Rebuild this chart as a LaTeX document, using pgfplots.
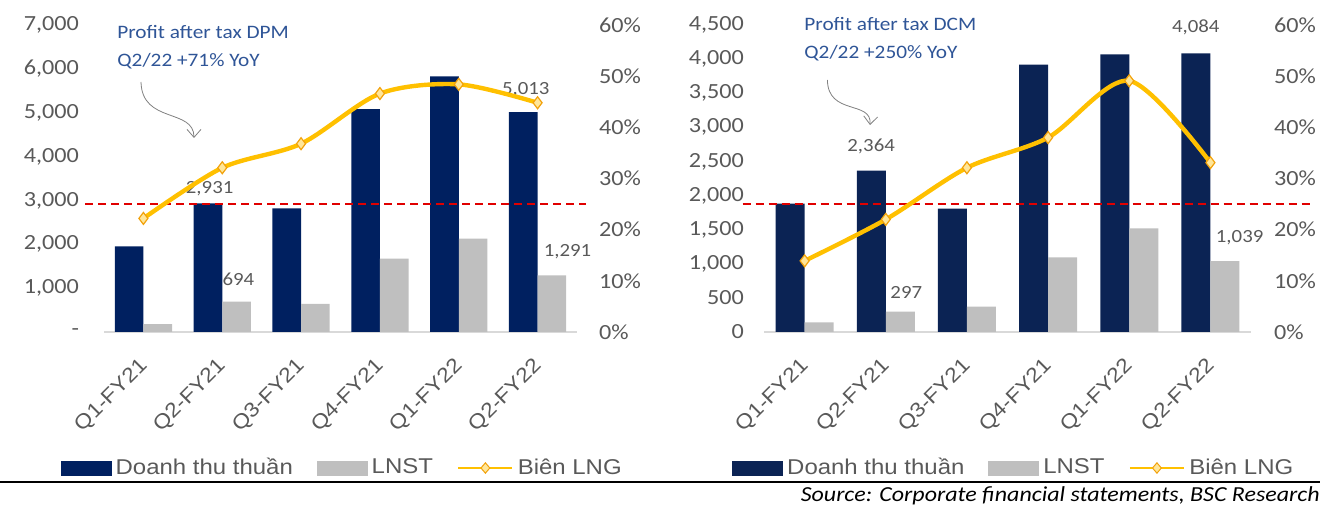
\documentclass[border=0pt]{standalone}
\usepackage{pgfplots}
\pgfplotsset{compat=1.18}
\usepackage{fontspec}
\setmainfont{Carlito}[FakeStretch=1.12]
\newfontfamily\arialf{Liberation Sans}[FakeStretch=1.12]
\usetikzlibrary{arrows.meta}
\definecolor{navyA}{HTML}{002060}
\definecolor{navyB}{HTML}{0B2354}
\definecolor{grayBar}{HTML}{BFBFBF}
\definecolor{goldL}{HTML}{FFC000}
\definecolor{mkFill}{HTML}{FFE699}
\definecolor{mkDraw}{HTML}{F2A20C}
\definecolor{tickGray}{HTML}{595959}
\definecolor{annBlue}{HTML}{2F5597}
\definecolor{refRed}{HTML}{E00000}
\definecolor{baseGray}{HTML}{D9D9D9}

\tikzset{dlab/.style={font=\fontsize{9.3}{11}\selectfont, text=tickGray, inner sep=0pt, anchor=center}}

\pgfplotsset{
 common/.style={
  scale only axis, height=153.5pt,
  xmin=-0.5, xmax=5.5,
  /pgf/number format/assume math mode=true,
  tick label style={font=\fontsize{10.8}{13}\selectfont, text=tickGray},
  major tick length=0pt,
  clip=false,
 },
 mainax/.style={
  common,
  axis x line*=bottom, axis y line*=left,
  x axis line style={draw=baseGray, line width=1pt},
  y axis line style={draw=none},
  xtick={0,...,5},
  xticklabels={Q1-FY21,Q2-FY21,Q3-FY21,Q4-FY21,Q1-FY22,Q2-FY22},
  xticklabel style={font=\arialf\fontsize{10.2}{12}\selectfont, xshift=3pt, rotate=45, anchor=east},
  xticklabel shift=13pt,
  ybar=0pt,
  ymin=0,
  yticklabel shift=9pt,
 },
 secax/.style={
  common,
  axis y line*=right, axis x line=none,
  y axis line style={draw=none},
  ymin=0, ymax=60, ytick={0,10,...,60},
  yticklabels={0\%,10\%,20\%,30\%,40\%,50\%,60\%},
  yticklabel shift=7.5pt,
  legend columns=3,
  legend style={draw=none, fill=none, inner sep=0pt, anchor=west,
    font=\arialf\fontsize{10.7}{13}\selectfont, text=tickGray,
    /tikz/every even column/.append style={column sep=10pt}},
  legend cell align=left,
 },
 margline/.style={goldL, line width=2.2pt, smooth, mark=diamond*, mark size=3pt,
   mark options={fill=mkFill, draw=mkDraw, line width=0.6pt},
   legend image code/.code={\draw[goldL, line width=1.4pt] (0pt,0pt) -- (27pt,0pt);
     \draw[mkDraw, fill=mkFill, line width=0.5pt] (13.5pt,2.6pt) -- (11.3pt,0pt) -- (13.5pt,-2.6pt) -- (15.7pt,0pt) -- cycle;}},
 reflinestyle/.style={refRed, line width=1pt, dash pattern=on 4pt off 2.5pt, forget plot},
}

\pgfplotstableread{
x rev lnst marg
0 1950 180 22.2
1 2931 694 32.1
2 2820 640 36.8
3 5080 1675 46.6
4 5830 2130 48.4
5 5013 1291 44.8
}\dpm

\pgfplotstableread{
x rev lnst marg
0 1880 142 13.9
1 2364 297 22.0
2 1810 371 32.1
3 3920 1095 38.0
4 4070 1520 49.1
5 4084 1039 33.1
}\dcm

\begin{document}
\begin{tikzpicture}
\useasboundingbox (0,0) rectangle (660pt,254pt);

% ---------- Left chart (DPM) ----------
\begin{axis}[mainax, at={(52pt,88pt)}, anchor=south west, width=236.5pt,
  ymax=7000, ytick={0,1000,...,7000},
  yticklabels={{-},{1,000},{2,000},{3,000},{4,000},{5,000},{6,000},{7,000}},
  bar width=14.3pt]
\addplot[fill=navyA, draw=none] table[x=x, y=rev] {\dpm};
\addplot[fill=grayBar, draw=none] table[x=x, y=lnst] {\dpm};
\node[dlab] at (axis cs:0.84,3267) {2,931};
\node[dlab] at (axis cs:1.205,1213) {694};
\node[dlab] at (axis cs:4.85,5536) {5,013};
\node[dlab] at (axis cs:5.38,1829) {1,291};
\end{axis}
\begin{axis}[secax, at={(52pt,88pt)}, anchor=south west, width=236.5pt,
  legend style={at={(-0.092,-0.443)}}]
\addplot[reflinestyle] coordinates {(-0.736,25) (5.62,25)};
\addlegendimage{legend image code/.code={\fill[navyA] (0pt,-3.5pt) rectangle (25pt,3.5pt);}}
\addlegendentry{Doanh thu thuần}
\addlegendimage{legend image code/.code={\fill[grayBar] (0pt,-3.5pt) rectangle (25pt,3.5pt);}}
\addlegendentry{LNST}
\addplot[margline] table[x=x, y=marg] {\dpm};
\addlegendentry{Biên LNG}
\end{axis}

% ---------- Right chart (DCM) ----------
\begin{axis}[mainax, at={(382pt,88pt)}, anchor=south west, width=243.5pt,
  ymax=4500, ytick={0,500,...,4500},
  yticklabels={{0},{500},{1,000},{1,500},{2,000},{2,500},{3,000},{3,500},{4,000},{4,500}},
  yticklabel shift=6.5pt,
  bar width=14.5pt]
\addplot[fill=navyB, draw=none] table[x=x, y=rev] {\dcm};
\addplot[fill=grayBar, draw=none] table[x=x, y=lnst] {\dcm};
\node[dlab] at (axis cs:0.82,2717) {2,364};
\node[dlab] at (axis cs:1.253,574) {297};
\node[dlab] at (axis cs:4.82,4467) {4,084};
\node[dlab] at (axis cs:5.36,1385) {1,039};
\end{axis}
\begin{axis}[secax, at={(382pt,88pt)}, anchor=south west, width=243.5pt,
  yticklabel shift=8pt,
  legend style={at={(-0.0657,-0.443)}}]
\addplot[reflinestyle] coordinates {(-0.765,25) (6.25,25)};
\addlegendimage{legend image code/.code={\fill[navyB] (0pt,-3.5pt) rectangle (25pt,3.5pt);}}
\addlegendentry{Doanh thu thuần}
\addlegendimage{legend image code/.code={\fill[grayBar] (0pt,-3.5pt) rectangle (25pt,3.5pt);}}
\addlegendentry{LNST}
\addplot[margline] table[x=x, y=marg] {\dcm};
\addlegendentry{Biên LNG}
\end{axis}

% ---------- Annotations ----------
\node[anchor=west, inner sep=0pt, text=annBlue, font=\fontsize{9.5}{11}\selectfont] at (58.5pt,238pt) {Profit after tax DPM};
\node[anchor=west, inner sep=0pt, text=annBlue, font=\fontsize{9.5}{11}\selectfont] at (58.5pt,223.5pt) {Q2/22 +71\% YoY};
\node[anchor=west, inner sep=0pt, text=annBlue, font=\fontsize{9.5}{11}\selectfont] at (402pt,242pt) {Profit after tax DCM};
\node[anchor=west, inner sep=0pt, text=annBlue, font=\fontsize{9.5}{11}\selectfont] at (402pt,227.5pt) {Q2/22 +250\% YoY};
\draw[gray, line width=0.4pt, -{Straight Barb[length=4pt,width=7pt]}] (70.5pt,213pt) .. controls (71pt,192pt) and (97pt,200pt) .. (97pt,185pt);
\draw[gray, line width=0.4pt, -{Straight Barb[length=4pt,width=7pt]}] (413.7pt,214pt) .. controls (414pt,196pt) and (436pt,204pt) .. (435pt,191.5pt);

% ---------- Footer ----------
\draw[black, line width=1.1pt] (0pt,13pt) -- (660pt,13pt);
\node[anchor=east, inner sep=0pt, font=\fontsize{10.7}{13}\selectfont\itshape] at (660pt,6pt) {Source: Corporate financial statements, BSC Research};
\end{tikzpicture}
\end{document}
